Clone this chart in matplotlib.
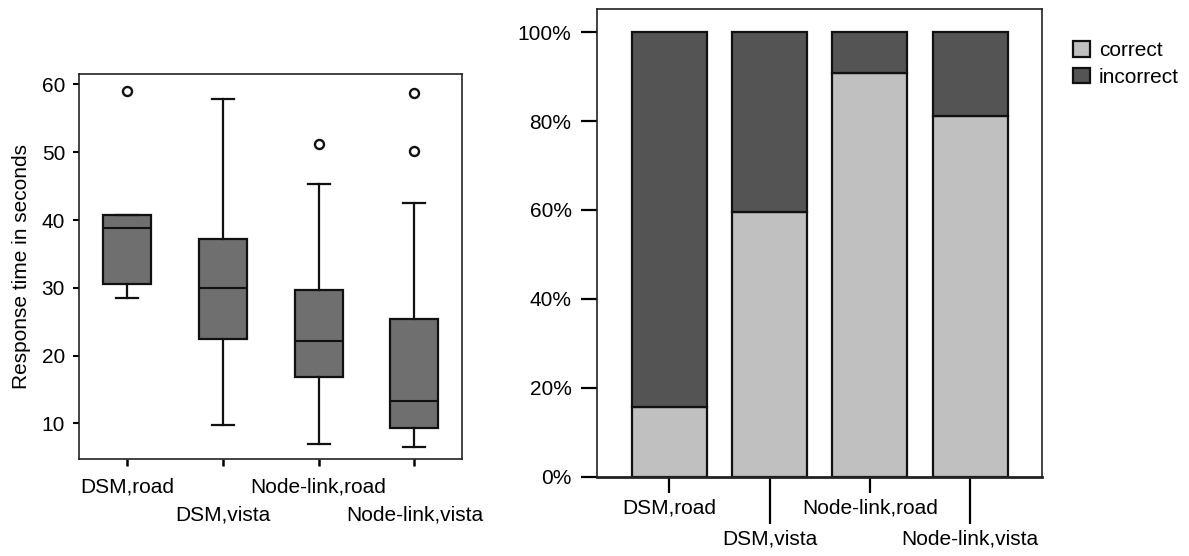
import matplotlib
matplotlib.use("Agg")
import matplotlib.pyplot as plt
import numpy as np

plt.rcParams['font.family'] = ['Liberation Sans', 'DejaVu Sans']
plt.rcParams['font.size'] = 15

groups = ['DSM,road', 'DSM,vista', 'Node-link,road', 'Node-link,vista']

# box plot statistics (seconds)
q1 = [30.5, 22.5, 16.8, 9.35]
med = [38.85, 30.0, 22.1, 13.25]
q3 = [40.8, 37.2, 29.7, 25.4]
whislo = [28.5, 9.75, 6.95, 6.55]
whishi = [40.8, 57.9, 45.3, 42.55]
fliers = [[59.1], [], [51.2], [58.7, 50.2]]

# stacked percentages
correct = [15.6, 59.6, 90.8, 81.2]
incorrect = [100 - c for c in correct]

box_face = '#6f6f6f'
light = '#c0c0c0'
dark = '#545454'
edge = '#111111'

fig = plt.figure(figsize=(11.89, 5.56), dpi=100)

# ---- left: box plot ----
ax1 = fig.add_axes([0.06644, 0.17392, 0.32238, 0.69245])
stats = []
for i in range(len(groups)):
    stats.append(dict(med=med[i], q1=q1[i], q3=q3[i], whislo=whislo[i],
                      whishi=whishi[i], fliers=fliers[i], label=groups[i]))
ax1.bxp(stats, positions=[1, 2, 3, 4], widths=0.5, capwidths=0.23,
        patch_artist=True, showfliers=True,
        boxprops=dict(facecolor=box_face, edgecolor=edge, linewidth=1.6),
        medianprops=dict(color=edge, linewidth=1.5),
        whiskerprops=dict(color=edge, linewidth=1.6),
        capprops=dict(color=edge, linewidth=1.6),
        flierprops=dict(marker='o', markersize=6.5, markerfacecolor='white',
                        markeredgecolor=edge, markeredgewidth=1.7))
ax1.set_xlim(0.5, 4.5)
ax1.set_ylim(4.7, 61.5)
ax1.set_yticks([10, 20, 30, 40, 50, 60])
ax1.tick_params(axis='y', length=4, width=1.5, pad=6, labelsize=15)
ax1.set_xticks([1, 3], [groups[0], groups[2]])
ax1.set_xticks([2, 4], [groups[1], groups[3]], minor=True)
ax1.tick_params(axis='x', which='major', length=5, width=1.8, pad=8, labelsize=15)
ax1.tick_params(axis='x', which='minor', length=5, width=1.8, pad=28, labelsize=15)
ax1.set_ylabel('Response time in seconds', fontsize=15, labelpad=8)
for s in ax1.spines.values():
    s.set_linewidth(1.2)
    s.set_color('#222222')

# ---- right: stacked bars ----
ax2 = fig.add_axes([0.50235, 0.14263, 0.37427, 0.84118])
x = np.arange(len(groups))
ax2.bar(x, correct, width=0.75, color=light, edgecolor=edge, linewidth=1.6,
        label='correct')
ax2.bar(x, incorrect, bottom=correct, width=0.75, color=dark, edgecolor=edge,
        linewidth=1.6, label='incorrect')
ax2.set_xlim(-0.72, 3.72)
ax2.set_ylim(0, 105.2)
ax2.set_yticks([0, 20, 40, 60, 80, 100], ['0%', '20%', '40%', '60%', '80%', '100%'])
ax2.tick_params(axis='y', length=11.5, width=1.6, pad=7, labelsize=15)
ax2.set_xticks([0, 2], [groups[0], groups[2]])
ax2.set_xticks([1, 3], [groups[1], groups[3]], minor=True)
ax2.tick_params(axis='x', which='major', length=11.5, width=1.6, pad=4, labelsize=15)
ax2.tick_params(axis='x', which='minor', length=34, width=1.6, pad=4, labelsize=15)
for s in ax2.spines.values():
    s.set_linewidth(1.2)
    s.set_color('#222222')
ax2.spines['bottom'].set_linewidth(2.0)

fig.legend(loc='upper left', bbox_to_anchor=(1073 / 1189, 1 - 41 / 556),
           frameon=False, fontsize=15, handlelength=0.8, handleheight=0.8,
           handletextpad=0.45, labelspacing=0.35, borderaxespad=0, borderpad=0)

fig.savefig('out.png', dpi=100)
